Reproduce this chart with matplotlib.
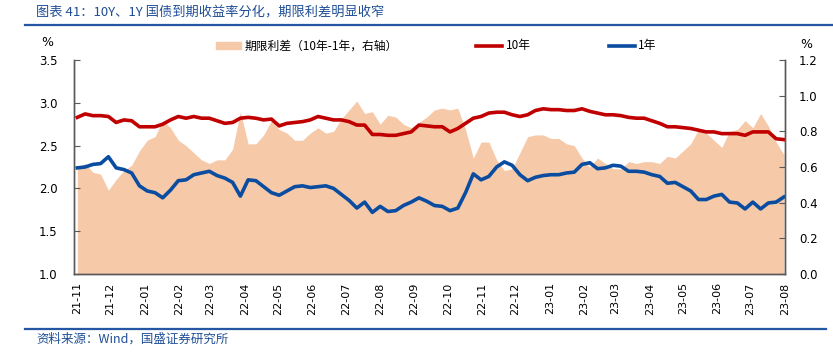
import matplotlib
matplotlib.use("Agg")
import matplotlib.pyplot as plt
import matplotlib.dates as mdates
from matplotlib.lines import Line2D
import pandas as pd
import numpy as np

plt.rcParams['font.family'] = ['Noto Sans CJK SC', 'DejaVu Sans']
plt.rcParams['axes.unicode_minus'] = False

# weekly observation dates
dates = pd.date_range('2021-11-01', periods=92, freq='7D')

y10 = [2.83, 2.87, 2.85, 2.85, 2.84, 2.77, 2.80, 2.79, 2.72, 2.72,
       2.72, 2.75, 2.80, 2.84, 2.82, 2.84, 2.82, 2.82, 2.79, 2.76,
       2.77, 2.82, 2.83, 2.82, 2.80, 2.81, 2.73, 2.76, 2.77, 2.78,
       2.80, 2.84, 2.82, 2.80, 2.80, 2.78, 2.74, 2.74, 2.63, 2.63,
       2.62, 2.62, 2.64, 2.66, 2.74, 2.73, 2.72, 2.72, 2.66, 2.70,
       2.76, 2.82, 2.84, 2.88, 2.89, 2.89, 2.86, 2.84, 2.86, 2.91,
       2.93, 2.92, 2.92, 2.91, 2.91, 2.93, 2.90, 2.88, 2.86, 2.86,
       2.85, 2.83, 2.82, 2.82, 2.79, 2.76, 2.72, 2.72, 2.71, 2.70,
       2.68, 2.66, 2.66, 2.64, 2.64, 2.64, 2.62, 2.66, 2.66, 2.66,
       2.58, 2.57]

y1 = [2.24, 2.25, 2.28, 2.29, 2.37, 2.24, 2.22, 2.18, 2.03, 1.97,
      1.95, 1.89, 1.98, 2.09, 2.10, 2.16, 2.18, 2.20, 2.15, 2.12,
      2.07, 1.91, 2.10, 2.09, 2.02, 1.95, 1.92, 1.97, 2.02, 2.03,
      2.01, 2.02, 2.03, 2.00, 1.93, 1.86, 1.77, 1.84, 1.72, 1.79,
      1.73, 1.74, 1.80, 1.84, 1.89, 1.85, 1.80, 1.79, 1.74, 1.77,
      1.95, 2.17, 2.10, 2.14, 2.25, 2.31, 2.27, 2.16, 2.09, 2.13,
      2.15, 2.16, 2.16, 2.18, 2.19, 2.28, 2.30, 2.23, 2.24, 2.27,
      2.26, 2.20, 2.20, 2.19, 2.16, 2.14, 2.06, 2.07, 2.02, 1.97,
      1.87, 1.87, 1.91, 1.93, 1.84, 1.83, 1.76, 1.84, 1.76, 1.83,
      1.84, 1.90]

spread = np.array(y10) - np.array(y1)

left_ticks = [1.0, 1.5, 2.0, 2.5, 3.0, 3.5]
right_ticks = [0.0, 0.2, 0.4, 0.6, 0.8, 1.0, 1.2]

title = '图表 41：10Y、1Y 国债到期收益率分化，期限利差明显收窄'
source = '资料来源：Wind，国盛证券研究所'
lab_spread = '期限利差（10年-1年，右轴）'
lab_10 = '10年'
lab_1 = '1年'

C_RED = '#C00000'
C_BLUE = '#0A4DA0'
C_AREA = '#F6C9A9'
C_HEAD = '#1F4E96'

W, H = 833, 354
fig = plt.figure(figsize=(W / 100, H / 100), dpi=100)

ax = fig.add_axes([74 / W, 1 - 274 / H, (785 - 74) / W, 214 / H])
ax2 = ax.twinx()

ax2.fill_between(dates, 0, spread, color=C_AREA, linewidth=0)
ax.plot(dates, y10, color=C_RED, lw=2.6, solid_joinstyle='round')
ax.plot(dates, y1, color=C_BLUE, lw=2.6, solid_joinstyle='round')

ax.set_zorder(ax2.get_zorder() + 1)
ax.patch.set_visible(False)

ax.set_ylim(1.0, 3.5)
ax2.set_ylim(0.0, 1.2)
ax.set_yticks(left_ticks)
ax.set_yticklabels([f'{v:.1f}' for v in left_ticks])
ax2.set_yticks(right_ticks)
ax2.set_yticklabels([f'{v:.1f}' for v in right_ticks])

xmin = pd.Timestamp('2021-10-29')
xmax = pd.Timestamp('2023-08-01')
ax.set_xlim(xmin, xmax)
ax.xaxis.set_major_locator(mdates.MonthLocator())
ax.xaxis.set_major_formatter(mdates.DateFormatter('%y-%m'))

for a in (ax, ax2):
    a.spines['top'].set_visible(False)
    for s in ('left', 'right', 'bottom'):
        a.spines[s].set_color('#595959')
        a.spines[s].set_linewidth(1.0)

ax.tick_params(axis='y', direction='in', length=4, color='#595959', pad=12,
               labelsize=8.5, labelfontfamily='DejaVu Sans')
ax2.tick_params(axis='y', direction='in', length=4, color='#595959', pad=10,
                labelsize=8.5, labelfontfamily='DejaVu Sans')
ax.tick_params(axis='x', length=0, pad=6, labelsize=8, labelrotation=90,
               labelfontfamily='DejaVu Sans')
ax2.tick_params(axis='x', length=0)

fig.text(47 / W, 1 - 42 / H, '%', fontsize=9, ha='center', va='center',
         family='DejaVu Sans')
fig.text(806 / W, 1 - 45 / H, '%', fontsize=9, ha='center', va='center',
         family='DejaVu Sans')

handles = [plt.Rectangle((0, 0), 1, 1, color=C_AREA),
           Line2D([0], [0], color=C_RED, lw=2.6),
           Line2D([0], [0], color=C_BLUE, lw=2.6)]
fig.legend(handles, [lab_spread, lab_10, lab_1], loc='center',
           bbox_to_anchor=(436 / W, 1 - 46 / H), ncol=3, frameon=False,
           fontsize=8.5, handlelength=2.2, handletextpad=0.3,
           columnspacing=6.6, handleheight=0.5)

fig.text(36 / W, 1 - 12 / H, title, fontsize=9.5, color=C_HEAD,
         ha='left', va='center', style='italic')
fig.add_artist(Line2D([25 / W, 1.0], [1 - 24.5 / H, 1 - 24.5 / H],
                      color='#2456A4', lw=1.6))
fig.add_artist(Line2D([25 / W, 826 / W], [1 - 328.5 / H, 1 - 328.5 / H],
                      color='#2456A4', lw=1.6))
fig.text(36 / W, 1 - 339 / H, source, fontsize=9, color=C_HEAD,
         ha='left', va='center', style='italic')

fig.savefig('out.png', dpi=100)
